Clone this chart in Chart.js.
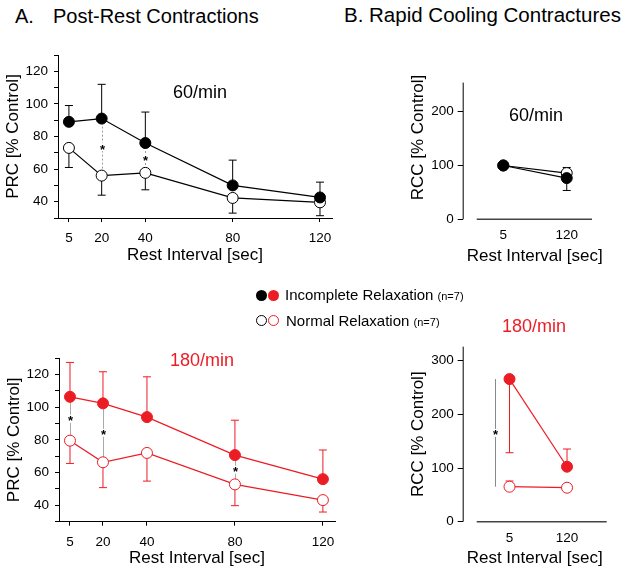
<!DOCTYPE html>
<html>
<head>
<meta charset="utf-8">
<title>Post-rest contractions and rapid cooling contractures</title>
<script src="https://cdn.jsdelivr.net/npm/chart.js@4.4.1/dist/chart.umd.min.js"></script>
<style>
    body { margin: 0; background: #fff; font-family: "Liberation Sans", Arial, sans-serif; }
    #page { position: relative; width: 629px; height: 574px; overflow: hidden; }
    canvas { position: absolute; }
    .txt { position: absolute; white-space: nowrap; line-height: 1; color: #000; z-index: 2; }
    .red { color: #ec1c24; }
    .small { font-size: 11px; }
    .dot { position: absolute; width: 11px; height: 11px; border-radius: 50%; box-sizing: border-box; z-index: 2; }
</style>
</head>
<body>
<div id="page">
    <canvas id="prc60" width="345" height="240" style="left:0;top:40px"></canvas>
    <canvas id="prc180" width="345" height="274" style="left:0;top:300px"></canvas>
    <canvas id="rcc60" width="229" height="240" style="left:400px;top:40px"></canvas>
    <canvas id="rcc180" width="229" height="274" style="left:400px;top:300px"></canvas>

    <div class="txt" style="left:15px;top:5.8px;font-size:20px">A.</div>
    <div class="txt" style="left:53px;top:5.8px;font-size:20px">Post-Rest Contractions</div>
    <div class="txt" style="left:344px;top:5.4px;font-size:20.5px">B. Rapid Cooling Contractures</div>

    <div class="txt" style="left:173px;top:83px;font-size:18px">60/min</div>
    <div class="txt" style="left:509px;top:106px;font-size:18px">60/min</div>
    <div class="txt red" style="left:170px;top:351px;font-size:18px">180/min</div>
    <div class="txt red" style="left:502px;top:317px;font-size:18px">180/min</div>

    <div class="dot" style="left:256.2px;top:290.2px;background:#000"></div>
    <div class="dot" style="left:267.8px;top:290.2px;background:#ec1c24"></div>
    <div class="txt" style="left:285px;top:287.3px;font-size:15px">Incomplete Relaxation <span class="small">(n=7)</span></div>
    <div class="dot" style="left:256.2px;top:315.2px;border:1px solid #000;background:#fff"></div>
    <div class="dot" style="left:267.8px;top:315.2px;border:1px solid #ec1c24;background:#fff"></div>
    <div class="txt" style="left:286px;top:313px;font-size:15px">Normal Relaxation <span class="small">(n=7)</span></div>
</div>

<script>
// rest intervals (sec) for the post-rest contraction panels
const restSec = [5, 20, 40, 80, 120];
const prcTicks = [40, 60, 80, 100, 120];

// PRC at 60/min, % of control; SEM: + drawn up, - drawn down
const prc60Incomplete = [89, 91, 76, 50, 42.6];
const prc60IncompleteSem = [10, 21, 19, 15.5, 9.4];
const prc60Normal = [73, 56, 57.7, 42.3, 39.6];
const prc60NormalSem = [-12, -12, -10.4, -9.3, -8.2];
const prc60Sig = [20, 40];

// PRC at 180/min
const prc180Incomplete = [106.3, 102.3, 93.9, 70.7, 56];
const prc180IncompleteSem = [21, 19.3, 24.6, 21.3, 17.8];
const prc180Normal = [79.5, 66.3, 72, 52.8, 43.2];
const prc180NormalSem = [-13.9, -15.5, -17.2, -13, -7.3];
const prc180Sig = [5, 20, 80];

// rapid cooling contractures, only two rest intervals
const rccSec = ['5', '120'];
const rcc60Ticks = [0, 100, 200];
const rcc60Incomplete = [100, 76.6];
const rcc60IncompleteSem = [0, -23];
const rcc60Normal = [100, 85.9];
const rcc60NormalSem = [0, 10.4];

const rcc180Ticks = [0, 100, 200, 300];
const rcc180Incomplete = [265.7, 102.4];
const rcc180IncompleteSem = [-137.2, 33];
const rcc180Normal = [65.2, 63.3];
const rcc180NormalSem = [10.6, 0];
const rcc180Sig = ['5'];

const BLACK = '#000000';
const RED = '#ec1c24';

Chart.defaults.font.family = '"Liberation Sans", Arial, sans-serif';
Chart.defaults.color = '#000';

const tickFont = { size: 13.5 };
const titleFont = { size: 17 };

function series(xs, ys, sem, color, filled) {
    return {
        data: xs.map((x, i) => ({ x: x, y: ys[i] })),
        errors: sem,
        borderColor: color,
        backgroundColor: color,
        borderWidth: 1.2,
        pointRadius: 5.5,
        pointHoverRadius: 5.5,
        pointBorderWidth: 1,
        pointBackgroundColor: filled ? color : '#ffffff',
        pointBorderColor: color,
        tension: 0
    };
}

// error bars with caps, drawn under the points
const errorBars = {
    id: 'errorBars',
    beforeDatasetsDraw(chart) {
        const { ctx, scales: { x, y } } = chart;
        chart.data.datasets.forEach(ds => {
            if (!ds.errors) return;
            ctx.save();
            ctx.strokeStyle = ds.borderColor;
            ctx.lineWidth = 1;
            ds.data.forEach((p, j) => {
                const e = ds.errors[j];
                if (!e) return;
                const px = x.getPixelForValue(p.x);
                const y0 = y.getPixelForValue(p.y);
                const y1 = y.getPixelForValue(p.y + e);
                ctx.beginPath();
                ctx.moveTo(px, y0);
                ctx.lineTo(px, y1);
                ctx.moveTo(px - 4, y1);
                ctx.lineTo(px + 4, y1);
                ctx.stroke();
            });
            ctx.restore();
        });
    }
};

// significance: line between the two groups plus an asterisk at the middle
function sigPlugin(at, cats, style) {
    return {
        id: 'sig',
        beforeDatasetsDraw(chart) {
            const { ctx, scales: { x, y } } = chart;
            const [hi, lo] = chart.data.datasets;
            ctx.save();
            at.forEach(cat => {
                const i = cats.indexOf(cat);
                const px = Math.round(x.getPixelForValue(hi.data[i].x + (style.shift || 0))) + 0.5;
                const y1 = y.getPixelForValue(hi.data[i].y);
                const y2 = y.getPixelForValue(lo.data[i].y);
                const my = (y1 + y2) / 2;
                ctx.strokeStyle = style.color;
                ctx.lineWidth = 1;
                ctx.setLineDash(style.dash || []);
                ctx.beginPath();
                ctx.moveTo(px, y1);
                ctx.lineTo(px, y2);
                ctx.stroke();
                ctx.setLineDash([]);
                ctx.fillStyle = '#fff';
                ctx.fillRect(px - 3.5, my - 4, 7, 8);
                ctx.fillStyle = '#000';
                ctx.font = 'bold 13px "Liberation Sans", Arial, sans-serif';
                ctx.textAlign = 'center';
                ctx.textBaseline = 'middle';
                ctx.fillText('*', px, my + 3);
            });
            ctx.restore();
        }
    };
}

// detached axes for the RCC panels
function framePlugin(yTop, xGap, xInset) {
    return {
        id: 'frame',
        afterDraw(chart) {
            const { ctx, chartArea: a, scales: { y } } = chart;
            const yb = y.getPixelForValue(0);
            ctx.save();
            ctx.strokeStyle = '#000';
            ctx.lineWidth = 1;
            ctx.beginPath();
            ctx.moveTo(a.left + 0.5, yb);
            ctx.lineTo(a.left + 0.5, y.getPixelForValue(yTop));
            ctx.stroke();
            ctx.strokeStyle = '#444';
            ctx.lineWidth = 1.5;
            ctx.beginPath();
            ctx.moveTo(a.left + xGap, yb);
            ctx.lineTo(a.right - xInset, yb);
            ctx.stroke();
            ctx.restore();
        }
    };
}

function prcPanel(id, datasets, sig, sigStyle, lay) {
    return new Chart(document.getElementById(id), {
        type: 'line',
        data: { datasets: datasets },
        options: {
            responsive: false,
            animation: false,
            devicePixelRatio: 1,
            layout: { padding: { top: lay.padTop, right: lay.padRight, left: 0, bottom: 0 } },
            plugins: { legend: { display: false }, tooltip: { enabled: false } },
            scales: {
                x: {
                    type: 'linear',
                    min: 0,
                    max: 125.5,
                    afterBuildTicks: s => { s.ticks = restSec.map(v => ({ value: v })); },
                    afterFit: s => { s.height = lay.xHeight; },
                    ticks: { font: tickFont, color: BLACK, padding: 8, maxRotation: 0, autoSkip: false },
                    grid: { display: true, drawOnChartArea: false, tickLength: 4, color: BLACK },
                    border: { display: true, color: BLACK, width: 1 },
                    title: { display: true, text: 'Rest Interval [sec]', font: titleFont, color: BLACK,
                             padding: { top: 0, bottom: lay.xTitlePad } }
                },
                y: {
                    min: 30,
                    max: 130,
                    afterFit: s => { s.width = lay.yWidth; },
                    ticks: { stepSize: 10, font: tickFont, color: BLACK, padding: 6, autoSkip: false,
                             callback: v => prcTicks.includes(v) ? v : '' },
                    grid: { display: true, drawOnChartArea: false, tickLength: 4, color: BLACK },
                    border: { display: true, color: BLACK, width: 1 },
                    title: { display: true, text: 'PRC [% Control]', font: titleFont, color: BLACK,
                             padding: { top: lay.yTitlePad, bottom: 0 } }
                }
            }
        },
        plugins: [errorBars, sigPlugin(sig, restSec, sigStyle)]
    });
}

function rccPanel(id, datasets, yTicks, extra, lay) {
    return new Chart(document.getElementById(id), {
        type: 'line',
        data: { datasets: datasets },
        options: {
            responsive: false,
            animation: false,
            devicePixelRatio: 1,
            layout: { padding: { top: lay.padTop, right: lay.padRight, left: 0, bottom: 0 } },
            plugins: { legend: { display: false }, tooltip: { enabled: false } },
            scales: {
                x: {
                    type: 'linear',
                    min: lay.xMin,
                    max: lay.xMax,
                    afterBuildTicks: s => { s.ticks = rccSec.map((c, i) => ({ value: i })); },
                    afterFit: s => { s.height = lay.xHeight; },
                    ticks: { font: tickFont, color: BLACK, padding: 8, maxRotation: 0, autoSkip: false,
                             callback: v => rccSec[v] },
                    grid: { display: false, drawTicks: false },
                    border: { display: false },
                    title: { display: true, text: 'Rest Interval [sec]', font: titleFont, color: BLACK,
                             padding: { top: 0, bottom: lay.xTitlePad } }
                },
                y: {
                    min: 0,
                    max: lay.yMax,
                    afterBuildTicks: s => { s.ticks = yTicks.map(v => ({ value: v })); },
                    afterFit: s => { s.width = lay.yWidth; },
                    ticks: { font: tickFont, color: BLACK, padding: 4, autoSkip: false },
                    grid: { display: true, drawOnChartArea: false, tickLength: 5, color: BLACK },
                    border: { display: false },
                    title: { display: true, text: 'RCC [% Control]', font: titleFont, color: BLACK,
                             padding: { top: lay.yTitlePad, bottom: 0 } }
                }
            }
        },
        plugins: [errorBars, framePlugin(lay.yTop, 14, lay.xInset)].concat(extra)
    });
}

document.addEventListener('DOMContentLoaded', () => {
    const idx = rccSec.map((c, i) => i);

    prcPanel('prc60', [
        series(restSec, prc60Incomplete, prc60IncompleteSem, BLACK, true),
        series(restSec, prc60Normal, prc60NormalSem, BLACK, false)
    ], prc60Sig, { color: '#999', dash: [2, 2] },
    { padTop: 15, padRight: 13, yWidth: 58, xHeight: 62, xTitlePad: 14, yTitlePad: 3.5 });

    prcPanel('prc180', [
        series(restSec, prc180Incomplete, prc180IncompleteSem, RED, true),
        series(restSec, prc180Normal, prc180NormalSem, RED, false)
    ], prc180Sig, { color: '#aaa' },
    { padTop: 58, padRight: 10, yWidth: 59, xHeight: 52.3, xTitlePad: 5.5, yTitlePad: 4.5 });

    rccPanel('rcc60', [
        series(idx, rcc60Incomplete, rcc60IncompleteSem, BLACK, true),
        series(idx, rcc60Normal, rcc60NormalSem, BLACK, false)
    ], rcc60Ticks, [],
    { padTop: 15.7, padRight: 22.3, yWidth: 62.7, xHeight: 60.7, xTitlePad: 13, yTitlePad: 8,
      xMin: -0.64, xMax: 1.63, yMax: 304, yTop: 254, xInset: 14.7 });

    rccPanel('rcc180', [
        series(idx, rcc180Incomplete, rcc180IncompleteSem, RED, true),
        series(idx, rcc180Normal, rcc180NormalSem, RED, false)
    ], rcc180Ticks, [sigPlugin(rcc180Sig, rccSec, { color: '#888', shift: -0.26 })],
    { padTop: 46.7, padRight: 22.3, yWidth: 62.7, xHeight: 52.3, xTitlePad: 5.5, yTitlePad: 8,
      xMin: -0.814, xMax: 1.69, yMax: 326, yTop: 326, xInset: 0 });
});
</script>
</body>
</html>
